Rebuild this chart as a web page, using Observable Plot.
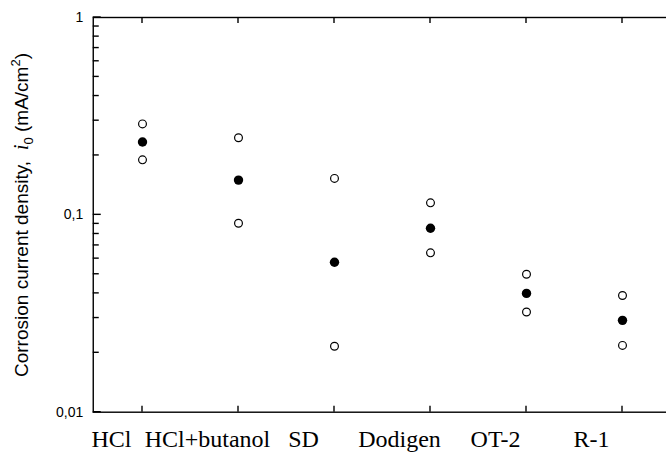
<!DOCTYPE html>
<html><head><meta charset="utf-8">
<script src="https://cdn.jsdelivr.net/npm/d3@7"></script>
<script src="https://cdn.jsdelivr.net/npm/@observablehq/plot@0.6"></script>
<style>html,body{margin:0;padding:0;overflow:hidden;background:#fff;width:666px;height:453px} svg{max-width:none !important;}</style>
</head><body><div id="chart"></div>
<script>
const categories = ["HCl", "HCl+butanol", "SD", "Dodigen", "OT-2", "R-1"];
const iHigh = [0.289, 0.246, 0.153, 0.115, 0.050, 0.039];
const iMean = [0.234, 0.150, 0.0575, 0.0855, 0.040, 0.0292];
const iLow  = [0.190, 0.0907, 0.0216, 0.0642, 0.0322, 0.0218];
const yTickValues = [0.01, 0.1, 1];
const yTickLabels = ["0,01", "0,1", "1"];
const yMinorTicks = d3.scaleLog().domain([0.01, 1]).ticks();

const rows = categories.map((c, i) => ({c, high: iHigh[i], mean: iMean[i], low: iLow[i]}));
const W = 680, H = 453, mL = 92.75, mR = 8.25, mT = 17, mB = 41.3;
const plot = Plot.plot({
  width: W, height: H,
  marginLeft: mL, marginRight: mR, marginTop: mT, marginBottom: mB,
  style: {background: "white", fontFamily: "Liberation Sans, Arial, sans-serif", overflow: "visible", maxWidth: "none"},
  x: {type: "point", domain: categories, padding: 0.5, axis: null},
  y: {type: "log", domain: [0.01, 1], axis: null},
  marks: [
    Plot.axisY(yTickValues, {tickSize: 0, tickPadding: 10, label: null,
      tickFormat: d => yTickLabels[yTickValues.indexOf(d)], fontSize: 14, fill: "black"}),
    Plot.axisX({anchor: "bottom", tickSize: 0, tickPadding: 18, label: null, dx: -31,
      fontSize: 24, fontFamily: "Liberation Serif, Times New Roman, serif", fill: "black"}),
    Plot.frame({stroke: "black", strokeWidth: 1.4}),
    Plot.dot(rows, {x: "c", y: "high", r: 3.9, stroke: "black", strokeWidth: 1.2, fill: "white"}),
    Plot.dot(rows, {x: "c", y: "low", r: 3.9, stroke: "black", strokeWidth: 1.2, fill: "white"}),
    Plot.dot(rows, {x: "c", y: "mean", r: 4.7, fill: "black", stroke: "none"})
  ]
});
const svg = d3.select(plot);
const xs = plot.scale("x"), ys = plot.scale("y");
const tg = svg.append("g").attr("stroke", "black").attr("stroke-width", 1.4);
yMinorTicks.forEach(v => {
  const y = ys.apply(v), len = yTickValues.includes(v) ? 8 : 6;
  tg.append("line").attr("x1", mL).attr("x2", mL + len).attr("y1", y).attr("y2", y);
});
categories.forEach(c => {
  const x = xs.apply(c);
  tg.append("line").attr("x1", x).attr("x2", x).attr("y1", H - mB).attr("y2", H - mB - 6);
  tg.append("line").attr("x1", x).attr("x2", x).attr("y1", mT).attr("y2", mT + 6);
});
const t = svg.append("text")
  .attr("transform", "translate(28,215) rotate(-90)")
  .attr("text-anchor", "middle")
  .attr("font-family", "Liberation Sans, Arial, sans-serif")
  .attr("font-size", 19)
  .attr("fill", "black");
t.append("tspan").text("Corrosion current density,  ");
t.append("tspan").attr("font-family", "Liberation Serif, Times New Roman, serif").attr("font-style", "italic").attr("font-size", 21).text("i");
t.append("tspan").attr("font-size", 13).attr("dy", 5).text("0");
t.append("tspan").attr("dy", -5).text(" (mA/cm");
t.append("tspan").attr("font-size", 13).attr("dy", -8).text("2");
t.append("tspan").attr("dy", 8).text(")");
document.getElementById("chart").appendChild(plot);
</script>
</body></html>
